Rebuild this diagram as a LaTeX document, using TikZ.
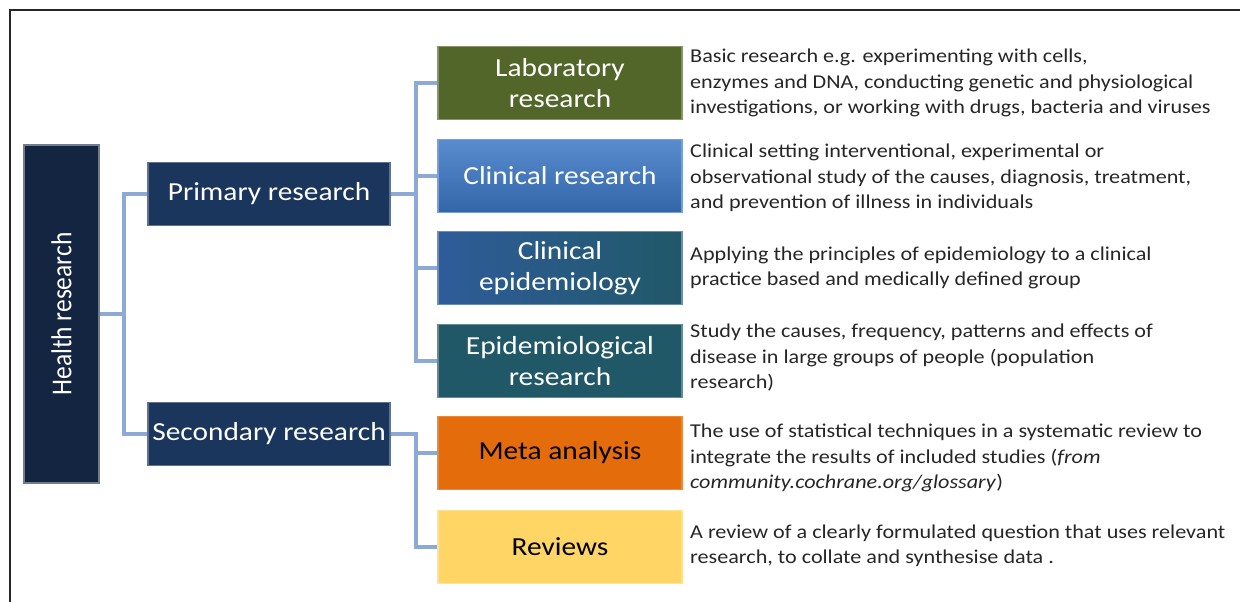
\documentclass[tikz,border=0pt]{standalone}
\usepackage{fontspec}
\setmainfont{Carlito}[FakeStretch=1.13]
\newfontfamily\rootfont{Carlito}
\usetikzlibrary{positioning}

\definecolor{navy}{RGB}{19,37,64}
\definecolor{midnavy}{RGB}{27,54,93}
\definecolor{olive}{RGB}{82,102,42}
\definecolor{skyblue}{RGB}{60,120,198}
\definecolor{steelblue}{RGB}{46,92,154}
\definecolor{tealblue}{RGB}{33,88,104}
\definecolor{pumpkin}{RGB}{228,108,10}
\definecolor{sand}{RGB}{255,214,102}
\definecolor{linkblue}{RGB}{141,170,214}

\begin{document}
\begin{tikzpicture}[x=1pt,y=-1pt,
    box/.style={rectangle, minimum width=244pt, minimum height=73pt,
        inner sep=2pt, align=center, text=white,
        font=\fontsize{26}{31}\selectfont, line width=1.2pt},
    branch/.style={rectangle, minimum width=242pt, minimum height=63pt,
        inner sep=0pt, align=center, text=white, fill=midnavy,
        draw=midnavy!70!white, line width=1.5pt,
        font=\fontsize{26}{31}\selectfont},
    desc/.style={anchor=west, align=left, text=black!85,
        font=\fontsize{19.6}{25.5}\selectfont, inner sep=0pt},
    link/.style={draw=linkblue, line width=3.5pt}]
    % outer frame (only top and left edges show)
    \useasboundingbox (0,0) rectangle (1240,602);
    \draw [line width=1.5pt, black!85] (10,602) -- (10,10) -- (1240,10);

    % root and the two branches
    \node [rectangle, minimum width=338pt, minimum height=75pt, fill=navy,
        draw=navy!60!white, line width=1.5pt, text=white, rotate=90,
        font=\rootfont\fontsize{25.5}{30}\selectfont] (hr) at (61.5,314)
        {\scalebox{1}[1.13]{Health research}};
    \node [branch] (pr) at (269,194) {Primary research};
    \node [branch] (sr) at (269,434) {Secondary research};

    % leaves
    \node [box, fill=olive, draw=olive!70!white] (lab) at (560,83) {Laboratory\\research};
    \node [box, top color=skyblue!85!white, bottom color=skyblue!85!black,
        draw=skyblue!70!white] (clin) at (560,176) {Clinical research};
    \node [box, left color=steelblue, right color=tealblue,
        draw=steelblue!70!white] (cepi) at (560,268) {Clinical\\epidemiology};
    \node [box, fill=tealblue, draw=tealblue!70!white] (epi) at (560,361) {Epidemiological\\research};
    \node [box, fill=pumpkin, draw=pumpkin!80!white, text=black] (meta) at (560,453) {Meta analysis};
    \node [box, fill=sand, draw=sand!70!white, text=black] (rev) at (560,547) {Reviews};

    % connectors
    \draw [link] (hr.south) -- ++(24,0) |- (pr.west);
    \draw [link] (hr.south) -- ++(24,0) |- (sr.west);
    \foreach \n in {lab,clin,cepi,epi}
        \draw [link] (pr.east) -- ++(25,0) |- (\n.west);
    \foreach \n in {meta,rev}
        \draw [link] (sr.east) -- ++(25,0) |- (\n.west);

    % descriptions
    \node [desc] (labtxt) at (690,83) {Basic research e.g. experimenting with cells,\\
        enzymes and DNA, conducting genetic and physiological\\
        investigations, or working with drugs, bacteria and viruses};
    \node [desc] (clintxt) at (690,178) {Clinical setting interventional, experimental or\\
        observational study of the causes, diagnosis, treatment,\\
        and prevention of illness in individuals};
    \node [desc] (cepitxt) at (690,268) {Applying the principles of epidemiology to a clinical\\
        practice based and medically defined group};
    \node [desc] (epitxt) at (690,358) {Study the causes, frequency, patterns and effects of\\
        disease in large groups of people (population\\
        research)};
    \node [desc] (metatxt) at (690,458) {The use of statistical techniques in a systematic review to\\
        integrate the results of included studies (\textit{from}\\
        \textit{community.cochrane.org/glossary})};
    \node [desc] (revtxt) at (690,546) {A review of a clearly formulated question that uses relevant\\
        research, to collate and synthesise data .};
\end{tikzpicture}
\end{document}
